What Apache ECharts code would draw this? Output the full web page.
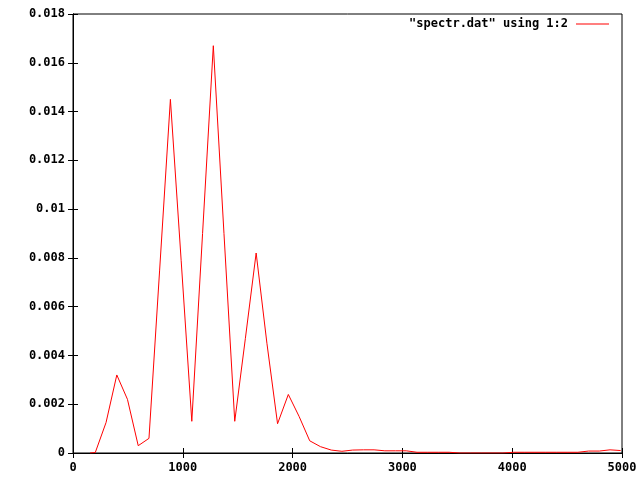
<!DOCTYPE html>
<html>
<head>
<meta charset="utf-8">
<script src="https://cdn.jsdelivr.net/npm/echarts@6/dist/echarts.min.js"></script>
<style>
  html, body { margin: 0; padding: 0; background: #fff; }
  #chart { width: 640px; height: 480px; }
</style>
</head>
<body>
<div id="chart"></div>
<script>
// 频率 (x) 与 幅值 (y)
var freqs = [155, 203, 301, 399, 496, 594, 692, 789, 887, 985,
             1082, 1180, 1278, 1375, 1473, 1570, 1668, 1766, 1863, 1961,
             2059, 2156, 2254, 2352, 2449, 2547, 2645, 2742, 2840, 2938,
             3035, 3133, 3230, 3328, 3426, 3524, 3621, 3719, 3817, 3914,
             4012, 4110, 4207, 4305, 4403, 4500, 4598, 4696, 4793, 4891, 4988];
var amps = [0, 0.00002, 0.00125, 0.0032, 0.0022, 0.0003, 0.0006, 0.0075, 0.0145, 0.0079,
            0.0013, 0.0090, 0.0167, 0.0090, 0.0013, 0.0047, 0.0082, 0.0045, 0.0012, 0.0024,
            0.0015, 0.0005, 0.00026, 0.00012, 0.00007, 0.00012, 0.00013, 0.00013, 0.00009, 0.00009,
            0.00009, 0.00003, 0.00003, 0.00003, 0.00003, 0, 0, 0, 0, 0,
            0.00003, 0.00003, 0.00003, 0.00003, 0.00003, 0.00003, 0.00003, 0.00008, 0.00008, 0.00013, 0.0001];
var seriesName = '"spectr.dat" using 1:2';
var xMin = 0, xMax = 5000, xStep = 1000;
var yMin = 0, yMax = 0.018, yStep = 0.002;

var chart = echarts.init(document.getElementById('chart'));
var font = 'DejaVu Sans Mono';

var points = freqs.map(function (f, i) { return [f, amps[i]]; });

var tickIn = { show: true, inside: true, length: 5, lineStyle: { color: '#000' } };

var option = {
    animation: false,
    backgroundColor: '#fff',
    grid: {
        left: 73, right: 18, top: 14, bottom: 27,
        outerBoundsMode: 'none',
        containLabel: false,
        show: true, borderColor: '#000', borderWidth: 1
    },
    legend: {
        data: [seriesName],
        right: 26, top: 13,
        align: 'right',
        icon: 'rect',
        itemWidth: 33, itemHeight: 1,
        textStyle: { fontFamily: font, fontWeight: 'bold', fontSize: 12, color: '#000', padding: [0, 3, 0, 0] }
    },
    xAxis: [{
        type: 'value', min: xMin, max: xMax, interval: xStep,
        axisLine: { lineStyle: { color: '#000' } },
        axisTick: tickIn,
        splitLine: { show: false },
        axisLabel: {
            fontFamily: font, fontWeight: 'bold', fontSize: 12, color: '#000', margin: 9,
            formatter: function (v) { return String(v); }
        }
    }, {
        type: 'value', position: 'top', min: xMin, max: xMax, interval: xStep,
        axisLine: { lineStyle: { color: '#000' } },
        axisTick: tickIn, axisLabel: { show: false }, splitLine: { show: false }
    }],
    yAxis: [{
        type: 'value', min: yMin, max: yMax, interval: yStep,
        axisLine: { show: true, lineStyle: { color: '#000' } },
        axisTick: tickIn,
        splitLine: { show: false },
        axisLabel: { fontFamily: font, fontWeight: 'bold', fontSize: 12, color: '#000', margin: 8 }
    }, {
        type: 'value', position: 'right', min: yMin, max: yMax, interval: yStep,
        axisLine: { show: true, lineStyle: { color: '#000' } },
        axisTick: tickIn, axisLabel: { show: false }, splitLine: { show: false }
    }],
    series: [{
        name: seriesName,
        type: 'line',
        data: points,
        showSymbol: false,
        symbol: 'none',
        itemStyle: { color: '#ff0000' },
        lineStyle: { color: '#ff0000', width: 1 }
    }]
};

chart.setOption(option);
</script>
</body>
</html>
